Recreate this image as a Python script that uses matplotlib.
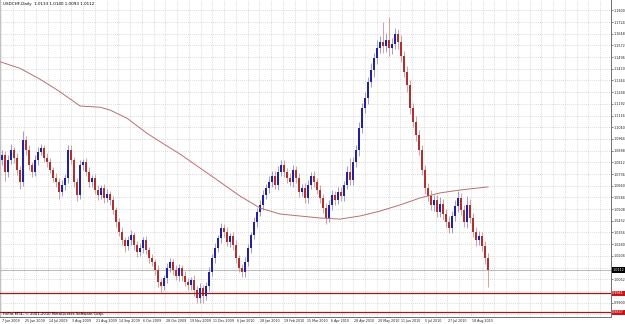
import matplotlib
matplotlib.use('Agg')
import matplotlib.pyplot as plt
import numpy as np

# ---------------- data ----------------
symbol = "USDCHF,Daily"
header_ohlc = ["1.0133", "1.0140", "1.0093", "1.0112"]
copyright_text = "FxPro MT4, \u00a9 2001-2010 MetaQuotes Software Corp."

first_open = 1.0830
closes = [
    1.0860, 1.0749, 1.0827, 1.0892, 1.0840, 1.0762, 1.0684, 1.0957, 1.0892, 1.0795,
    1.0749, 1.0827, 1.0879, 1.0905, 1.0840, 1.0814, 1.0762, 1.0710, 1.0684, 1.0619,
    1.0665, 1.0710, 1.0892, 1.0827, 1.0684, 1.0600, 1.0795, 1.0814, 1.0749, 1.0684,
    1.0710, 1.0632, 1.0600, 1.0645, 1.0580, 1.0606, 1.0567, 1.0502, 1.0424, 1.0359,
    1.0307, 1.0268, 1.0307, 1.0340, 1.0275, 1.0229, 1.0255, 1.0307, 1.0242, 1.0190,
    1.0164, 1.0112, 1.0034, 1.0008, 1.0060, 1.0125, 1.0164, 1.0112, 1.0073, 1.0125,
    1.0073, 1.0034, 1.0015, 1.0047, 0.9982, 0.9930, 0.9995, 0.9943, 1.0008, 1.0099,
    1.0190, 1.0255, 1.0320, 1.0385, 1.0359, 1.0294, 1.0333, 1.0275, 1.0190, 1.0125,
    1.0099, 1.0164, 1.0255, 1.0340, 1.0424, 1.0489, 1.0535, 1.0600, 1.0645, 1.0684,
    1.0723, 1.0665, 1.0749, 1.0795, 1.0749, 1.0710, 1.0684, 1.0762, 1.0710, 1.0619,
    1.0645, 1.0580, 1.0665, 1.0723, 1.0684, 1.0632, 1.0580, 1.0515, 1.0450, 1.0535,
    1.0600, 1.0567, 1.0619, 1.0593, 1.0665, 1.0749, 1.0697, 1.0814, 1.0892, 1.1035,
    1.1165, 1.1230, 1.1334, 1.1412, 1.1490, 1.1555, 1.1594, 1.1568, 1.1607, 1.1555,
    1.1581, 1.1646, 1.1594, 1.1503, 1.1399, 1.1315, 1.1165, 1.1074, 1.0990, 1.0892,
    1.0762, 1.0645, 1.0593, 1.0535, 1.0567, 1.0489, 1.0541, 1.0476, 1.0424, 1.0385,
    1.0463, 1.0528, 1.0580, 1.0502, 1.0424, 1.0535, 1.0450, 1.0359, 1.0307, 1.0333,
    1.0268, 1.0190, 1.0112,
]
upper_wick_pips = [
    30, 25, 35, 40, 20, 30, 25, 60, 25, 30,
    20, 35, 30, 25, 20, 30, 25, 20, 30, 25,
    30, 25, 30, 35, 20, 25, 30, 20, 25, 30,
    20, 25, 30, 20, 25, 30, 20, 25, 20, 25,
    30, 20, 25, 30, 20, 25, 30, 20, 25, 20,
    25, 20, 30, 25, 20, 30, 25, 20, 30, 25,
    20, 30, 25, 20, 30, 25, 35, 20, 25, 30,
    25, 30, 20, 35, 25, 30, 20, 25, 30, 20,
    25, 30, 25, 20, 30, 25, 35, 30, 25, 40,
    35, 30, 40, 35, 30, 25, 30, 35, 25, 30,
    25, 30, 35, 25, 30, 25, 30, 25, 30, 35,
    30, 25, 35, 30, 25, 40, 90, 35, 30, 40,
    35, 40, 30, 45, 35, 50, 40, 130, 45, 150,
    40, 40, 35, 45, 30, 40, 35, 30, 40, 35,
    30, 35, 30, 40, 35, 30, 45, 35, 30, 40,
    35, 40, 45, 30, 35, 60, 40, 30, 35, 30,
    25, 30, 35,
]
lower_wick_pips = [
    35, 60, 30, 25, 30, 35, 45, 25, 30, 35,
    30, 25, 30, 20, 25, 30, 20, 25, 30, 45,
    25, 30, 35, 25, 30, 40, 25, 30, 25, 30,
    35, 25, 30, 25, 35, 25, 30, 25, 30, 25,
    35, 40, 25, 30, 35, 30, 25, 30, 25, 30,
    25, 30, 35, 40, 25, 30, 25, 30, 25, 30,
    30, 25, 35, 30, 40, 33, 30, 45, 25, 30,
    25, 30, 25, 30, 35, 25, 30, 35, 30, 25,
    30, 35, 25, 30, 25, 30, 25, 30, 25, 30,
    30, 25, 30, 25, 35, 30, 25, 30, 35, 30,
    25, 35, 30, 25, 30, 25, 35, 30, 40, 25,
    30, 35, 25, 30, 35, 25, 30, 35, 30, 40,
    35, 30, 40, 35, 45, 40, 35, 45, 40, 50,
    40, 35, 45, 40, 35, 45, 40, 35, 40, 30,
    35, 40, 30, 35, 40, 30, 35, 40, 30, 35,
    30, 35, 40, 30, 35, 40, 35, 30, 40, 35,
    30, 40, 110,
]

ma_bar = [-0.7, 6, 12.7, 19.3, 26, 32.7, 36, 41.7, 48.3, 52.7, 59.3, 66, 72.7,
          79.3, 86, 92.7, 99.3, 106, 112.7, 119.3, 126, 132.7, 139.3, 146, 152.7, 162]
ma_price = [1.1466, 1.1423, 1.1352, 1.1271, 1.1178, 1.1170, 1.1152, 1.1098, 1.1001,
            1.0946, 1.0866, 1.0775, 1.0684, 1.0593, 1.0515, 1.0476, 1.0463, 1.0450,
            1.0443, 1.0463, 1.0495, 1.0535, 1.0580, 1.0613, 1.0632, 1.0652]

hline_prices = [0.9961, 0.9837]
last_price = 1.0112

date_labels = ["7 Jun 2009", "25 Jun 2009", "14 Jul 2009", "3 Aug 2009", "21 Aug 2009",
               "14 Sep 2009", "6 Oct 2009", "28 Oct 2009", "19 Nov 2009", "11 Dec 2009",
               "6 Jan 2010", "28 Jan 2010", "19 Feb 2010", "15 Mar 2010", "6 Apr 2010",
               "28 Apr 2010", "20 May 2010", "11 Jun 2010", "5 Jul 2010", "27 Jul 2010",
               "18 Aug 2010"]

price_top = 1.1867
price_bottom = 0.98065
tick_start = 1.1800
tick_step = 0.0076
n_ticks = 27

# ---------------- figure ----------------
W, H = 625, 324
fig = plt.figure(figsize=(W / 100, H / 100), dpi=100)
fig.patch.set_facecolor('white')
ax_left_px, ax_right_px, ax_top_px, ax_bot_px = 0, 611, 0, 317
ax = fig.add_axes([ax_left_px / W, (H - ax_bot_px) / H,
                   (ax_right_px - ax_left_px) / W, (ax_bot_px - ax_top_px) / H])
ax.set_facecolor('white')

bar_px = 3.0
x0_px = 2.0
ax.set_xlim((ax_left_px - x0_px) / bar_px, (ax_right_px - x0_px) / bar_px)
ax.set_ylim(price_bottom, price_top)

grid_color = '#c4c4c4'
gx_px = np.arange(0.95, ax_right_px, 11.75)
for gx in gx_px:
    ax.axvline((gx - x0_px) / bar_px, color=grid_color, lw=0.5, ls=(0, (1.2, 1.8)), zorder=0)

ticks = [round(tick_start - tick_step * n, 5) for n in range(n_ticks)]
for t in ticks:
    ax.axhline(t, color=grid_color, lw=0.5, ls=(0, (1.2, 1.8)), zorder=0)

# candles
closes_a = np.array(closes)
opens_a = np.concatenate([[first_open], closes_a[:-1]])
x = np.arange(len(closes_a))
highs = np.maximum(opens_a, closes_a) + np.array(upper_wick_pips) / 10000.0
lows = np.minimum(opens_a, closes_a) - np.array(lower_wick_pips) / 10000.0
up = closes_a >= opens_a
bull_col = '#2222a0'
bear_col = '#b03030'
wick_up = '#8c8cd2'
wick_dn = '#d09090'
ax.vlines(x[up], lows[up], highs[up], color=wick_up, lw=0.6, zorder=2)
ax.vlines(x[~up], lows[~up], highs[~up], color=wick_dn, lw=0.6, zorder=2)
body = np.where(np.abs(closes_a - opens_a) < 0.0004, 0.0004, closes_a - opens_a)
ax.bar(x[up], body[up], bottom=opens_a[up], width=0.5, color=bull_col, lw=0, zorder=3)
ax.bar(x[~up], body[~up], bottom=opens_a[~up], width=0.5, color=bear_col, lw=0, zorder=3)

# moving average
ax.plot(ma_bar, ma_price, color='#b87070', lw=0.7, zorder=4)

# horizontal lines
for hp in hline_prices:
    ax.axhline(hp, color='#9e1a1a', lw=0.9, zorder=4)
ax.axhline(last_price, color='#b0b0b0', lw=0.6, zorder=1)

# axes styling
ax.spines['top'].set_visible(False)
for s in ['left', 'bottom', 'right']:
    ax.spines[s].set_color('#707070')
    ax.spines[s].set_linewidth(0.7)
ax.spines['left'].set_color('#c0c0c0')

hide_near = [last_price] + hline_prices
shown = [t for t in ticks if all(abs(t - h) > 0.0045 for h in hide_near)]
ax.yaxis.tick_right()
ax.set_yticks(shown)
ax.set_yticklabels(['%.4f' % t for t in shown])
ax.tick_params(axis='y', labelsize=2.4, pad=0.6, length=1.2, width=0.4, colors='#202020')
ax.set_xticks([])

lab_kw = dict(transform=ax.get_yaxis_transform(), ha='left', va='center',
              fontsize=2.4, color='white', clip_on=False, zorder=10)
ax.text(1.002, last_price, '%.4f' % last_price,
        bbox=dict(facecolor='black', edgecolor='none', pad=0.5), **lab_kw)
for hp in hline_prices:
    ax.text(1.002, hp, '%.4f' % hp,
            bbox=dict(facecolor='#c81414', edgecolor='none', pad=0.5), **lab_kw)

# header and copyright
fig.text(3 / W, 1 - 4.5 / H, symbol + "  " + " ".join(header_ohlc),
         fontsize=3.0, color='black', va='center', ha='left')
fig.text(3 / W, 1 - 314.5 / H, copyright_text,
         fontsize=2.7, color='black', va='center', ha='left')

# date labels
for k, lab in enumerate(date_labels):
    px = 1.7 + 23.5 * k
    fig.text(px / W, 1 - 321 / H, lab, fontsize=2.3, color='#202020', va='center', ha='left')

fig.savefig('out.png', dpi=100, facecolor='white')
